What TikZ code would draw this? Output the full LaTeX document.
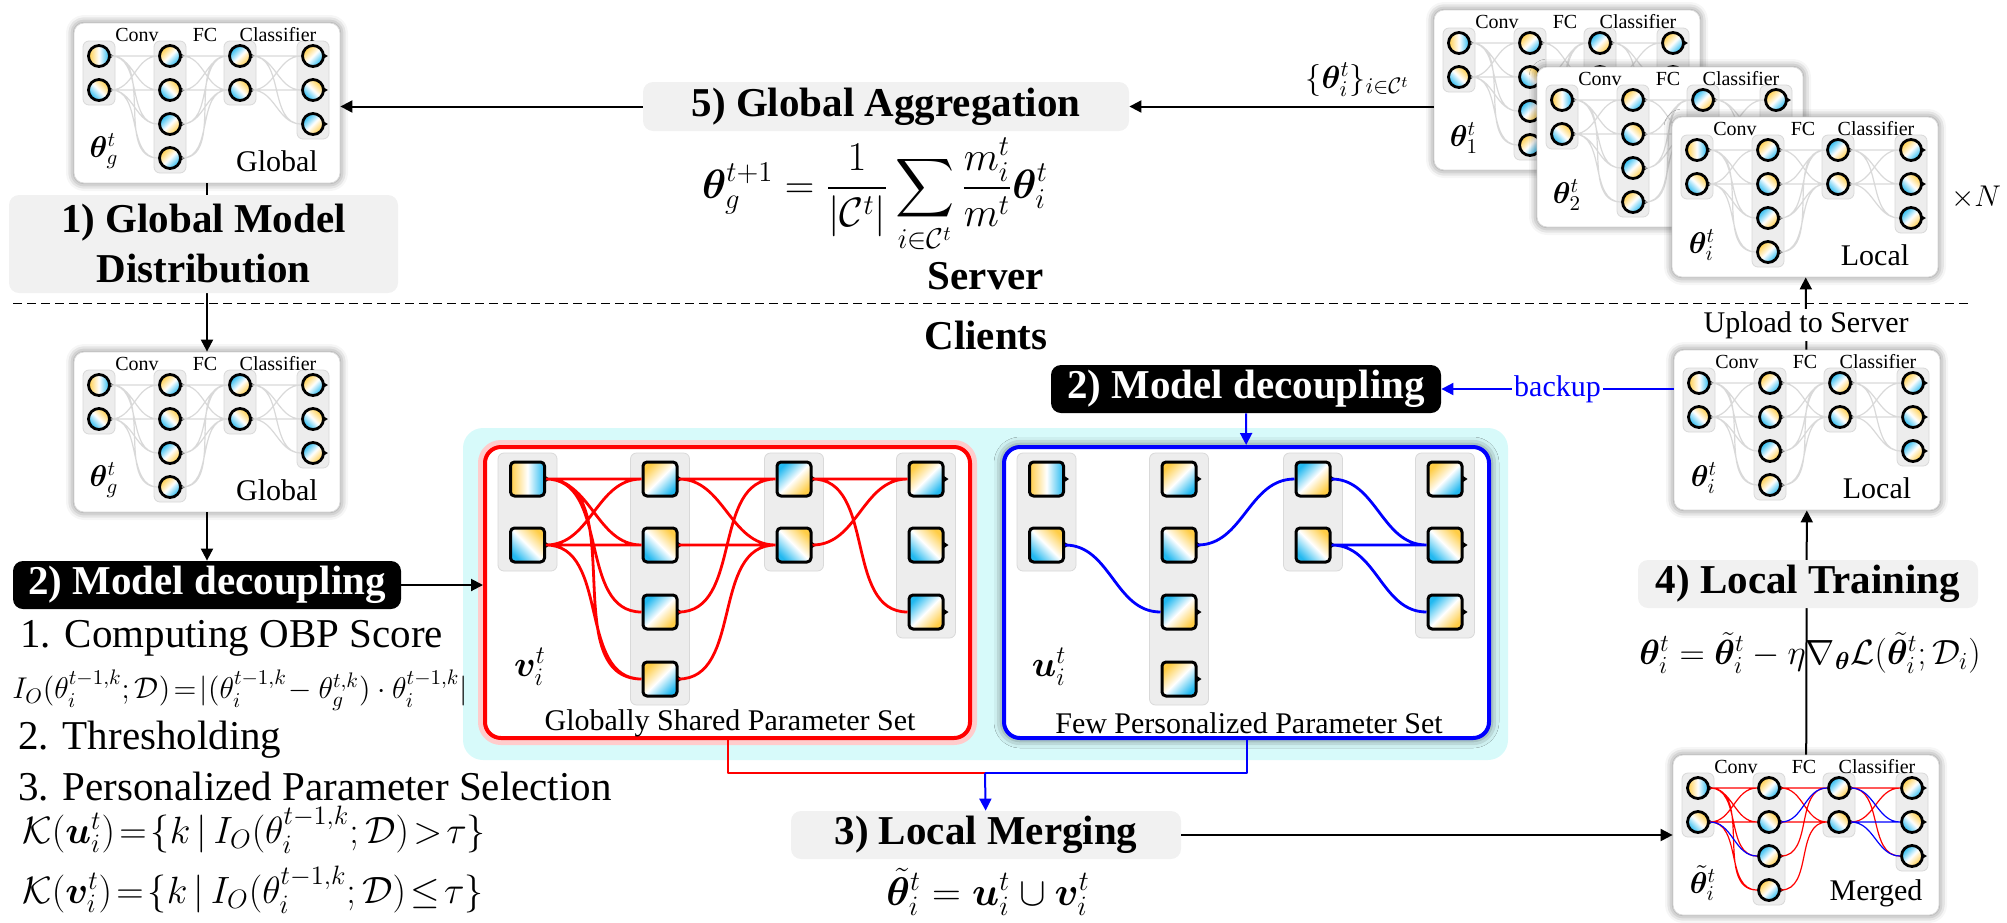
\RequirePackage{fix-cm}
\documentclass[tikz,border=0pt]{standalone}
\usepackage{amsmath, amssymb, bm}
\usepackage[no-math]{fontspec}
\setmainfont{Liberation Serif}
\usetikzlibrary{positioning,calc,arrows.meta,shadows.blur}

\definecolor{yel}{RGB}{255,205,70}
\definecolor{blu}{RGB}{35,185,240}
\definecolor{headbg}{RGB}{241,241,241}
\definecolor{cyanbg}{RGB}{215,250,250}

\newcommand\myhead{\fontsize{20.5}{25}\selectfont\bfseries}
\newcommand\mylist{\fontsize{20.5}{25}\selectfont}
\newcommand\mycap{\fontsize{15}{18}\selectfont}
\newcommand\mylayer{\fontsize{10}{12}\selectfont}

\tikzset{
  arr/.style={line width=1pt, -{Triangle[length=6pt,width=6pt]}},
  barr/.style={arr, blue},
  wire/.style={out=0, in=180},
  gedge/.style={wire, gray!30, line width=0.6pt},
  netbox/.style={draw=gray!30, fill=white, rounded corners=5pt,
    blur shadow={shadow xshift=0pt, shadow yshift=0pt, shadow blur radius=4pt, shadow opacity=55}},
  rbox/.style={draw=red, line width=2pt, fill=white, rounded corners=8pt,
    preaction={draw=red!20, line width=7pt, rounded corners=8pt}},
  bbox/.style={draw=blue, line width=2pt, fill=white, rounded corners=8pt,
    blur shadow={shadow xshift=0pt, shadow yshift=0pt, shadow blur radius=5pt, shadow opacity=70}},
  colbox/.style={draw=gray!30, fill=gray!14, rounded corners=3pt, inner sep=0pt},
  neu/.style={circle, draw=black, line width=1.4pt, minimum size=10.5pt, inner sep=0pt,
    left color=yel, right color=blu, middle color=white},
  sq/.style={rectangle, draw=black, line width=1.5pt, rounded corners=2pt, minimum size=17pt, inner sep=0pt,
    left color=yel, right color=blu, middle color=white},
  yL/.style={shading angle=90},
  yTL/.style={shading angle=45},
  yTR/.style={shading angle=-45},
  yBR/.style={shading angle=-135},
  layer/.style={font=\mylayer, inner sep=0pt},
  head/.style={fill=headbg, rounded corners=5pt, font=\myhead, inner sep=0pt, align=center},
  blackhead/.style={fill=black, text=white, rounded corners=5pt, font=\myhead, inner sep=0pt},
}

\newcommand\myport[2]% node, size
{\fill (#1.east) ++(-2,-#2) -- ++(#2+2,#2) -- ++(-#2-2,#2) -- cycle;}

\newcommand\mydrawnet[5]% name, x, y, parameter, caption
{
\begin{scope}[shift={(#2,#3)}]
\node[netbox, minimum width=133pt, minimum height=80pt] (#1) at (133,80) {};
\node[colbox, minimum width=16pt, minimum height=32pt] (#1-c1) at (25,50)  {};
\node[colbox, minimum width=16pt, minimum height=66pt] (#1-c2) at (96,84)  {};
\node[colbox, minimum width=16pt, minimum height=32pt] (#1-c3) at (166,50) {};
\node[colbox, minimum width=16pt, minimum height=49pt] (#1-c4) at (239,67) {};
\node[neu, yL]  (#1-11) at (25,33)   {};
\node[neu, yTR] (#1-12) at (25,67)   {};
\node[neu, yTL] (#1-21) at (96,33)   {};
\node[neu, yTR] (#1-22) at (96,67)   {};
\node[neu, yBR] (#1-23) at (96,101)  {};
\node[neu, yTL] (#1-24) at (96,135)  {};
\node[neu, yBR] (#1-31) at (166,33)  {};
\node[neu, yTR] (#1-32) at (166,67)  {};
\node[neu, yTL] (#1-41) at (239,33)  {};
\node[neu, yTR] (#1-42) at (239,67)  {};
\node[neu, yBR] (#1-43) at (239,101) {};
\myport{#1-11}{3} \myport{#1-12}{3}
\myport{#1-21}{3} \myport{#1-22}{3} \myport{#1-23}{3} \myport{#1-24}{3}
\myport{#1-31}{3} \myport{#1-32}{3}
\myport{#1-41}{3} \myport{#1-42}{3} \myport{#1-43}{3}
\node[layer] (#1-conv) at (63,12)  {Conv};
\node[layer] (#1-fc)   at (131,12) {FC};
\node[layer] (#1-cls)  at (204,12) {Classifier};
\node[font=\fontsize{15}{18}\selectfont] (#1-par) at (30,128) {$#4$};
\node[font=\mycap] (#1-cap) at (203,138) {#5};
\end{scope}
}

\newcommand\mydrawsqnet[6]% name, x, y, frame style, parameter, caption
{
\begin{scope}[shift={(#2,#3)}]
\node[#4, minimum width=242.5pt, minimum height=145.5pt] (#1) at (242.5,145.5) {};
\node[colbox, minimum width=29.5pt, minimum height=59pt]   (#1-c1) at (42.5,65)  {};
\node[colbox, minimum width=29.5pt, minimum height=126pt]  (#1-c2) at (175,132)  {};
\node[colbox, minimum width=29.5pt, minimum height=59pt]   (#1-c3) at (309,65)   {};
\node[colbox, minimum width=29.5pt, minimum height=92.5pt] (#1-c4) at (441,98.5) {};
\node[sq, yL]  (#1-11) at (42.5,32) {};
\node[sq, yTR] (#1-12) at (42.5,98) {};
\node[sq, yTL] (#1-21) at (175,32)  {};
\node[sq, yTR] (#1-22) at (175,98)  {};
\node[sq, yBR] (#1-23) at (175,165) {};
\node[sq, yTL] (#1-24) at (175,232) {};
\node[sq, yBR] (#1-31) at (309,32)  {};
\node[sq, yTR] (#1-32) at (309,98)  {};
\node[sq, yTL] (#1-41) at (441,32)  {};
\node[sq, yTR] (#1-42) at (441,98)  {};
\node[sq, yBR] (#1-43) at (441,165) {};
\myport{#1-11}{4} \myport{#1-12}{4}
\myport{#1-21}{4} \myport{#1-22}{4} \myport{#1-23}{4} \myport{#1-24}{4}
\myport{#1-31}{4} \myport{#1-32}{4}
\myport{#1-41}{4} \myport{#1-42}{4} \myport{#1-43}{4}
\node[font=\fontsize{18}{20}\selectfont] (#1-par) at (45,220) {$#5$};
\node[font=\mycap] (#1-cap) at (245,276) {#6};
\end{scope}
}

\newcommand\mygrayedges[1]
{
\draw[gedge] (#1-11.east) to (#1-21.west) (#1-11.east) to (#1-22.west) (#1-11.east) to (#1-23.west) (#1-11.east) to (#1-24.west)
  (#1-12.east) to (#1-21.west) (#1-12.east) to (#1-22.west) (#1-12.east) to (#1-23.west) (#1-12.east) to (#1-24.west)
  (#1-21.east) to (#1-31.west) (#1-22.east) to (#1-31.west) (#1-23.east) to (#1-31.west) (#1-24.east) to (#1-31.west)
  (#1-21.east) to (#1-32.west) (#1-22.east) to (#1-32.west) (#1-23.east) to (#1-32.west) (#1-24.east) to (#1-32.west)
  (#1-31.east) to (#1-41.west) (#1-31.east) to (#1-42.west) (#1-31.east) to (#1-43.west)
  (#1-32.east) to (#1-41.west) (#1-32.east) to (#1-42.west) (#1-32.east) to (#1-43.west);
}

\newcommand\myrededges[2]% options, name
{
\draw[wire, #1] (#2-11.east) to (#2-21.west) (#2-11.east) to (#2-22.west) (#2-11.east) to (#2-23.west) (#2-11.east) to (#2-24.west)
  (#2-12.east) to (#2-21.west) (#2-12.east) to (#2-22.west) (#2-12.east) to (#2-24.west)
  (#2-21.east) to (#2-31.west) (#2-21.east) to (#2-32.west) (#2-22.east) to (#2-32.west)
  (#2-23.east) to (#2-31.west) (#2-24.east) to (#2-32.west)
  (#2-31.east) to (#2-41.west) (#2-31.east) to (#2-43.west) (#2-32.east) to (#2-41.west);
}

\newcommand\myblueedges[2]% options, name
{
\draw[wire, #1] (#2-12.east) to (#2-23.west) (#2-22.east) to (#2-31.west)
  (#2-31.east) to (#2-42.west) (#2-32.east) to (#2-42.west) (#2-32.east) to (#2-43.west);
}

\begin{document}
\begin{tikzpicture}[x=0.5pt, y=-0.5pt, line join=round]
\useasboundingbox (0,0) rectangle (2007,922);
% server
\mydrawnet{G}{74}{23}{\bm{\theta}_g^t}{Global}
\mygrayedges{G}
\mydrawnet{S1}{1434}{10}{\bm{\theta}_1^t}{}
\mygrayedges{S1}
\mydrawnet{S2}{1537}{67}{\bm{\theta}_2^t}{}
\mygrayedges{S2}
\mydrawnet{S3}{1672}{117}{\bm{\theta}_i^t}{Local}
\mygrayedges{S3}
\node[font=\fontsize{15}{17}\selectfont] (times) at (1976,197) {$\times N$};
\node[head, minimum width=243pt, minimum height=24.5pt] (agg) at (886,106.5) {5) Global Aggregation};
\draw[arr] (S1.west |- agg) -- (agg) node[pos=0.25, above=1pt, font=\fontsize{16}{18}\selectfont] (sel) {$\{\bm{\theta}_i^t\}_{i\in\mathcal{C}^t}$};
\draw[arr] (agg) -- (agg -| G.east);
\node[font=\fontsize{20.5}{24}\selectfont] (aggeq) at (875,196) {$\displaystyle \bm{\theta}_g^{t+1}=\frac{1}{|\mathcal{C}^t|}\sum_{i\in\mathcal{C}^t}\frac{m_i^t}{m^t}\bm{\theta}_i^t$};
\node[font=\myhead] (server) at (986,276) {Server};
\draw[line width=0.5pt, dash pattern=on 4.5pt off 2.5pt] (13,303) -- (1971,303);
\node[font=\myhead] (clients) at (986,335) {Clients};
% distribution
\mydrawnet{Gc}{74}{352}{\bm{\theta}_g^t}{Global}
\mygrayedges{Gc}
\draw[arr] (G) -- (Gc);
\node[head, minimum width=194.5pt, minimum height=49pt] (dist) at (203.5,244) {1) Global Model\\Distribution};
\node[blackhead, minimum width=194pt, minimum height=24pt] (dec1) at (207,585) {2) Model decoupling};
\draw[arr] (Gc) -- (dec1);
% parameter sets
\fill[cyanbg, rounded corners=10pt] (463,428) rectangle (1508,760);
\mydrawsqnet{R}{485}{447}{rbox}{\bm{v}_i^t}{Globally Shared Parameter Set}
\myrededges{line width=1.4pt, red}{R}
\mydrawsqnet{B}{1004}{447}{bbox}{\bm{u}_i^t}{Few Personalized Parameter Set}
\myblueedges{line width=1.4pt, blue}{B}
\draw[arr] (dec1) -- (dec1 -| R.west);
% decoupling steps
\node[font=\mylist, anchor=west, inner sep=0pt] (s1) at (20,638) {1. Computing OBP Score};
\node[font=\fontsize{15}{17}\selectfont, anchor=west, inner sep=0pt] (obp) at (12,690) {$I_O(\theta_i^{t-1,k};\mathcal{D})\!=\!|(\theta_i^{t-1,k}\!-\theta_g^{t,k})\cdot\theta_i^{t-1,k}|$};
\node[font=\mylist, anchor=west, inner sep=0pt] (s2) at (18,740) {2. Thresholding};
\node[font=\mylist, anchor=west, inner sep=0pt] (s3) at (18,787) {3. Personalized Parameter Selection};
\node[font=\fontsize{19}{22}\selectfont, anchor=west, inner sep=0pt] (ku) at (22,830) {$\mathcal{K}(\bm{u}_i^t)\!=\!\{k\,|\,I_O(\theta_i^{t-1,k};\mathcal{D})\!>\!\tau\}$};
\node[font=\fontsize{19}{22}\selectfont, anchor=west, inner sep=0pt] (kv) at (22,890) {$\mathcal{K}(\bm{v}_i^t)\!=\!\{k\,|\,I_O(\theta_i^{t-1,k};\mathcal{D})\!\leq\!\tau\}$};
% merging
\coordinate (mj) at (985,773);
\draw[red, line width=1pt] (R) |- (mj);
\draw[blue, line width=1pt] (B) |- (mj);
\node[head, minimum width=195pt, minimum height=24pt] (merge) at (986,835) {3) Local Merging};
\draw[barr] (mj) -- (merge);
\node[font=\fontsize{20}{22}\selectfont] (mergeeq) at (988,892) {$\tilde{\bm{\theta}}_i^t=\bm{u}_i^t\cup\bm{v}_i^t$};
% local side
\mydrawnet{L}{1674}{350}{\bm{\theta}_i^t}{Local}
\mygrayedges{L}
\mydrawnet{M}{1673}{755}{\tilde{\bm{\theta}}_i^t}{Merged}
\myrededges{line width=0.6pt, red}{M}
\myblueedges{line width=0.6pt, blue}{M}
\draw[arr] (merge) -- (merge -| M.west);
\draw[arr] (M) -- (L);
\node[head, minimum width=170pt, minimum height=24pt] (train) at (1808,584) {4) Local Training};
\node[font=\fontsize{17.5}{20}\selectfont] (traineq) at (1810,653) {$\bm{\theta}_i^t=\tilde{\bm{\theta}}_i^t-\eta\nabla_{\bm{\theta}}\mathcal{L}(\tilde{\bm{\theta}}_i^t;\mathcal{D}_i)$};
\draw[arr] (L) -- (S3) node[pos=0.34, fill=white, font=\mycap, inner sep=1pt] (up) {Upload to Server};
\node[blackhead, minimum width=195pt, minimum height=24pt] (dec2) at (1246,389) {2) Model decoupling};
\draw[barr] (L.west |- dec2) -- (dec2) node[midway, fill=white, font=\mycap, inner sep=1pt] (bk) {backup};
\draw[barr] (dec2) -- (B);
\end{tikzpicture}
\end{document}
